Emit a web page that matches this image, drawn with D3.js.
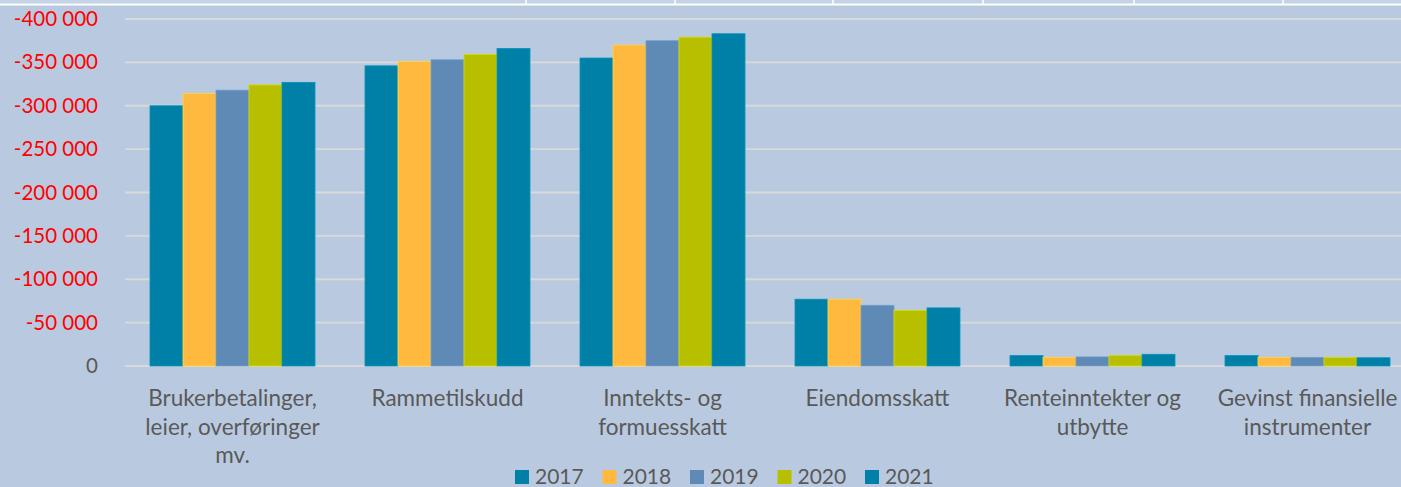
<!DOCTYPE html>
<meta charset="utf-8" />
<title>Inntekter 2017-2021</title>
<style>
  body { margin: 0; background: #b9cae0; }
  svg { display: block; }
  text { font-family: Lato, "Open Sans", sans-serif; }
</style>
<body>
<svg width="1401" height="487"></svg>
<script src="https://d3js.org/d3.v7.min.js"></script>
<script>
  // data (values in 1000 kr, negative = income)
  const categories = [
    "Brukerbetalinger, leier, overføringer mv.",
    "Rammetilskudd",
    "Inntekts- og formuesskatt",
    "Eiendomsskatt",
    "Renteinntekter og utbytte",
    "Gevinst finansielle instrumenter"
  ];
  const categoryLines = [
    ["Brukerbetalinger,", "leier, overføringer", "mv."],
    ["Rammetilskudd"],
    ["Inntekts- og", "formuesskatt"],
    ["Eiendomsskatt"],
    ["Renteinntekter og", "utbytte"],
    ["Gevinst finansielle", "instrumenter"]
  ];
  const years = ["2017", "2018", "2019", "2020", "2021"];
  const values2017 = [-300000, -346000, -355000, -77000, -12000, -12000];
  const values2018 = [-314000, -351000, -370000, -77000, -10000, -10000];
  const values2019 = [-318000, -353000, -375000, -70000, -10500, -10000];
  const values2020 = [-324000, -359000, -379000, -64000, -12000, -9800];
  const values2021 = [-327000, -366000, -383000, -67000, -13500, -9500];
  const series = [values2017, values2018, values2019, values2020, values2021];
  const yTicks = [0, -50000, -100000, -150000, -200000, -250000, -300000, -350000, -400000];

  const colors = ["#0080a6", "#ffb93e", "#5f8ab5", "#b8bf00", "#0080a6"];

  const width = 1401, height = 487;
  const svg = d3.select("svg");

  svg.append("rect").attr("width", width).attr("height", height).attr("fill", "#b9cae0");

  // white table border along the top
  svg.append("rect").attr("x", 0).attr("y", 0).attr("width", width).attr("height", 3).attr("fill", "#c5d3e6");
  svg.append("line").attr("x1", 0).attr("x2", width).attr("y1", 4.5).attr("y2", 4.5)
    .attr("stroke", "#fff").attr("stroke-width", 2);
  [526, 675, 833, 983, 1134, 1283].forEach(x => {
    svg.append("line").attr("x1", x).attr("x2", x).attr("y1", 0).attr("y2", 4)
      .attr("stroke", "#fff").attr("stroke-width", 1.5);
  });

  const plotLeft = 125;
  const x = d3.scaleBand().domain(categories).range([plotLeft, plotLeft + 215 * categories.length]).paddingInner(0).paddingOuter(0);
  const x1 = d3.scaleBand().domain(years).range([0, 165]);
  const y = d3.scaleLinear().domain([0, -400000]).range([366, 19]);

  const fmt = d3.formatLocale({ decimal: ",", thousands: " ", grouping: [3], currency: ["", " kr"], minus: "-" }).format(",d");

  // grid
  svg.append("g").selectAll("line").data(yTicks).join("line")
    .attr("x1", plotLeft).attr("x2", width)
    .attr("y1", d => y(d)).attr("y2", d => y(d))
    .attr("stroke", "#d9d9d9").attr("stroke-width", 1.8);

  // y labels
  const yAxis = svg.append("g").attr("transform", "translate(98,0)")
    .call(d3.axisLeft(y).tickValues(yTicks).tickFormat(fmt).tickSize(0).tickPadding(0));
  yAxis.select(".domain").remove();
  yAxis.selectAll("text")
    .attr("font-size", 20.5)
    .attr("font-family", "Lato, 'Open Sans', sans-serif")
    .attr("fill", d => d === 0 ? "#595959" : "#ff0000");

  // bars
  const groups = svg.append("g").selectAll("g").data(categories).join("g")
    .attr("transform", d => `translate(${x(d) + (x.bandwidth() - 165) / 2},0)`);
  groups.selectAll("rect")
    .data((d, i) => years.map((yr, k) => ({ yr, k, v: series[k][i] })))
    .join("rect")
    .attr("x", d => x1(d.yr))
    .attr("width", x1.bandwidth())
    .attr("y", d => y(d.v))
    .attr("height", d => y(0) - y(d.v))
    .attr("fill", d => colors[d.k])
    .attr("stroke", d => d3.color(colors[d.k]).brighter(0.4))
    .attr("stroke-width", 0.8);

  // category labels
  const labels = svg.append("g").selectAll("text").data(categories).join("text")
    .attr("text-anchor", "middle")
    .attr("font-size", 22.5)
    .attr("fill", "#595959")
    .attr("transform", d => `translate(${x(d) + x.bandwidth() / 2},406)`);
  labels.selectAll("tspan")
    .data((d, i) => categoryLines[i])
    .join("tspan")
    .attr("x", 0)
    .attr("y", (d, j) => j * 28.5)
    .text(d => d);

  // legend
  const legend = svg.append("g").selectAll("g").data(years).join("g")
    .attr("transform", (d, i) => `translate(${515 + i * 87.5},470)`);
  legend.append("rect").attr("width", 14).attr("height", 14).attr("fill", (d, i) => colors[i]);
  legend.append("text").attr("x", 20).attr("y", 14).attr("font-size", 21).attr("fill", "#595959").text(d => d);
</script>
</body>
